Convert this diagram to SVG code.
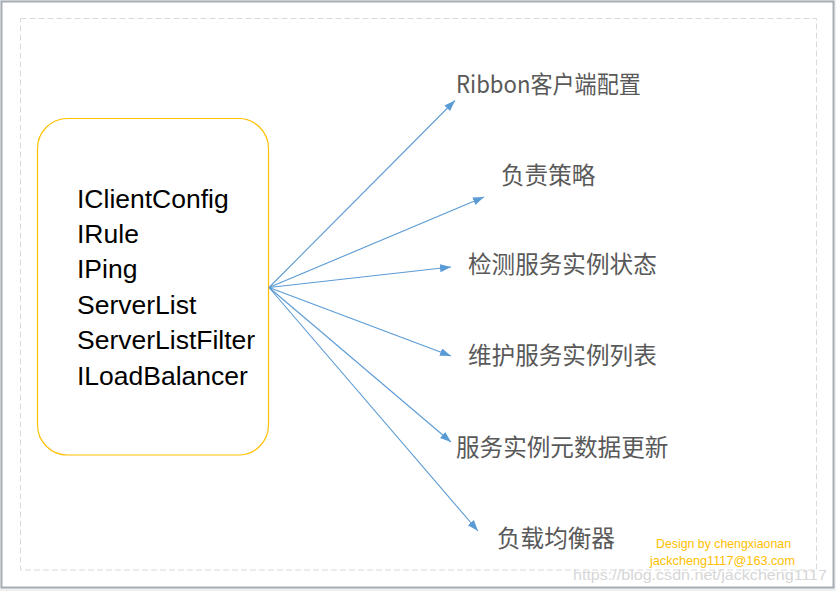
<svg xmlns="http://www.w3.org/2000/svg" width="836" height="591" viewBox="0 0 836 591">
<style>
.frame{fill:#ffffff;stroke:#a7adb4;stroke-width:2}
.dash{fill:none;stroke:#d9d9d9;stroke-width:1;stroke-dasharray:6,3}
.box{fill:#ffffff;stroke:#ffc000;stroke-width:1.2}
.item{font-family:"Liberation Sans",Arial,sans-serif;font-size:26.5px;fill:#000000}
.lbl{font-family:"Noto Sans CJK SC","Noto Sans",sans-serif;font-size:23.6px;fill:#595959}
.sig{font-family:"Liberation Sans",Arial,sans-serif;font-size:13px;fill:#ffc000}
.wm{font-family:"Liberation Sans",Arial,sans-serif;font-size:15px;fill:#d6d6d6}
.conn line{stroke:#5b9bd5;stroke-width:1.1;fill:none;marker-end:url(#ah)}
</style>
<defs>
<marker id="ah" markerUnits="userSpaceOnUse" markerWidth="12" markerHeight="10" refX="11" refY="4" orient="auto">
<path d="M0,0 L11,4 L0,8 Z" fill="#5b9bd5"/>
</marker>
</defs>
<rect x="0" y="0" width="836" height="591" fill="#f0f0f0"/>
<rect class="frame" x="1.5" y="1.5" width="832" height="586"/>
<rect class="dash" x="20.5" y="18.5" width="796" height="551.5"/>
<g id="source">
<rect class="box" x="37.5" y="118.5" width="231" height="336.5" rx="30" ry="30"/>
<text class="item" x="77" y="207.5">IClientConfig</text>
<text class="item" x="77" y="242.5">IRule</text>
<text class="item" x="77" y="278">IPing</text>
<text class="item" x="77" y="313.5">ServerList</text>
<text class="item" x="77" y="349">ServerListFilter</text>
<text class="item" x="77" y="384.5">ILoadBalancer</text>
</g>
<g id="connectors" class="conn">
<line x1="269" y1="287.5" x2="455" y2="100.5"/>
<line x1="269" y1="287.5" x2="484" y2="197"/>
<line x1="269" y1="287.5" x2="451" y2="267"/>
<line x1="269" y1="287.5" x2="451" y2="356"/>
<line x1="269" y1="287.5" x2="451" y2="442"/>
<line x1="269" y1="287.5" x2="478" y2="531"/>
</g>
<g id="n1"><text class="lbl" x="456" y="93" textLength="185" lengthAdjust="spacingAndGlyphs">Ribbon客户端配置</text></g>
<g id="n2"><text class="lbl" x="501" y="184">负责策略</text></g>
<g id="n3"><text class="lbl" x="468" y="273">检测服务实例状态</text></g>
<g id="n4"><text class="lbl" x="468" y="364">维护服务实例列表</text></g>
<g id="n5"><text class="lbl" x="456" y="456">服务实例元数据更新</text></g>
<g id="n6"><text class="lbl" x="497" y="547">负载均衡器</text></g>
<g id="signature">
<text class="sig" x="656" y="548" textLength="135" lengthAdjust="spacingAndGlyphs">Design by chengxiaonan</text>
<text class="sig" x="650" y="564.5" textLength="145" lengthAdjust="spacingAndGlyphs">jackcheng1117@163.com</text>
</g>
<text class="wm" x="573" y="580" textLength="254" lengthAdjust="spacingAndGlyphs">https://blog.csdn.net/jackcheng1117</text>
</svg>
